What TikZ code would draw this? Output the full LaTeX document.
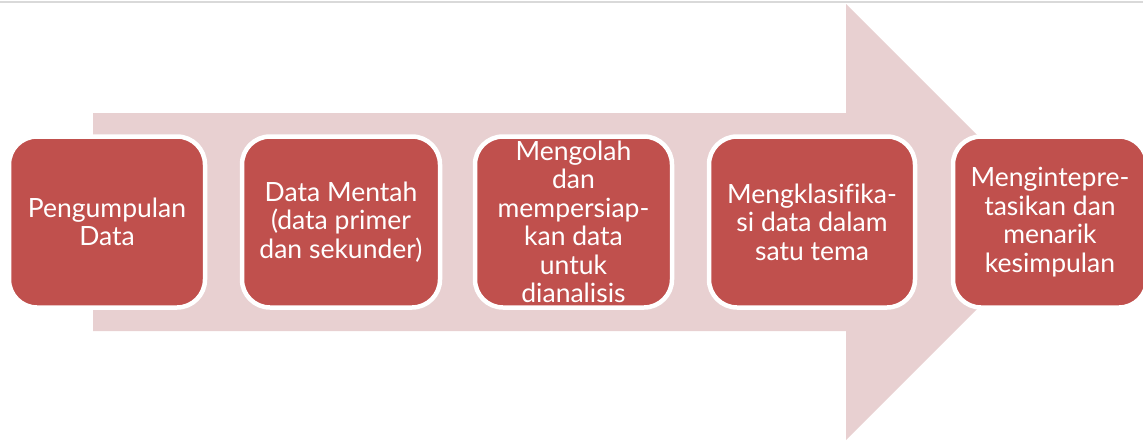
\documentclass[tikz,border=0pt]{standalone}
\usepackage{fontspec}
\setmainfont{Lato}[Ligatures=NoCommon]
\usetikzlibrary{positioning}
\definecolor{tahapred}{HTML}{C0504D}
\definecolor{arrowpink}{HTML}{E8D0D1}
\definecolor{rulegray}{HTML}{D9D9D9}
\tikzset{
	% ------- every something
	every node/.style={
		font=\fontsize{26.5}{28.5}\selectfont,
	},
	% ------- custom
	tahap/.style={
		rectangle, rounded corners=28pt,
		fill=tahapred, draw=white, line width=4.5pt,
		minimum height=171pt, align=center, text=white,
		inner sep=0pt,
	},
	big arrow/.style={
		fill=arrowpink, draw=none,
	},
}
\begin{document}
\begin{tikzpicture}[x=1pt, y=-1pt]

% frame %{{{1

	\useasboundingbox (0,0) rectangle (1143,442);
	\clip (0,0) rectangle (1143,442);
	\draw[rulegray, line width=2pt] (0,2) -- (1143,2);

% big arrow %{{{1

	\fill[big arrow] (93,113) -- (846,113) -- (846,4) -- (1064,222)
		-- (846,440) -- (846,331) -- (93,331) -- cycle;

% steps %{{{1

	\node[tahap, minimum width=196pt] (kumpul) at (107,222)
		{Pengumpulan\\Data};
	\node[tahap, minimum width=198pt] (mentah) at (341,222)
		{Data Mentah\\(data primer\\dan sekunder)};
	\node[tahap, minimum width=197pt] (olah) at (573.5,222)
		{Mengolah\\dan\\mempersiap-\\kan data\\untuk\\dianalisis};
	\node[tahap, minimum width=206pt] (klasifikasi) at (812,222)
		{Mengklasifika-\\si data dalam\\satu tema};
	\node[tahap, minimum width=194pt] (tafsir) at (1050,222)
		{Mengintepre-\\tasikan dan\\menarik\\kesimpulan};

% closing %{{{1

\end{tikzpicture}
\end{document}
